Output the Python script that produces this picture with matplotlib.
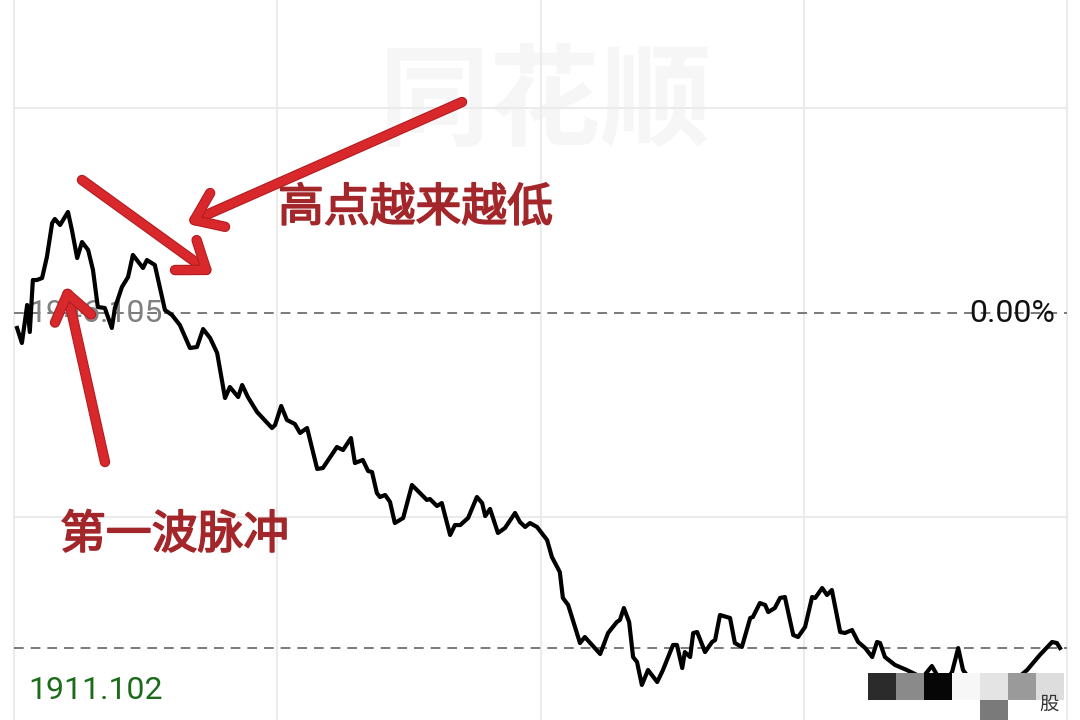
import matplotlib
matplotlib.use("Agg")
import matplotlib.pyplot as plt
import matplotlib.patheffects as pe
from matplotlib.patches import Rectangle

plt.rcParams['font.family'] = ['Roboto', 'Noto Sans CJK SC', 'DejaVu Sans']
plt.rcParams['lines.scale_dashes'] = False

# 分时数据 (分钟, 指数点位)
minutes = [0.7, 1.8, 3.0, 3.6, 4.3, 5.2, 6.4, 7.5, 8.7, 9.3, 10.5, 12.3, 13.2, 14.4, 15.5,
           16.9, 18.0, 19.1, 20.7, 22.3, 23.0, 24.6, 26.0, 27.1, 29.4, 30.3, 32.1, 34.4,
           36.0, 37.8, 40.1, 41.7, 43.1, 44.7, 46.3, 48.1, 49.2, 51.1, 52.0, 53.3, 55.4,
           58.8, 59.5, 60.9, 62.2, 64.0, 65.2, 66.8, 69.1, 70.4, 73.6, 75.0, 76.8, 77.7,
           79.5, 80.7, 81.6, 82.7, 83.4, 84.6, 85.7, 86.8, 88.7, 90.7, 92.5, 94.1, 94.8,
           96.4, 97.5, 99.4, 100.5, 101.7, 103.5, 105.5, 106.7, 107.4, 108.5, 110.3, 111.9,
           114.2, 115.3, 116.5, 117.6, 119.2, 121.5, 122.6, 124.4, 125.1, 126.3, 129.0,
           130.1, 133.6, 135.4, 137.4, 138.1, 139.0, 140.2, 141.1, 142.0, 143.1, 144.5,
           146.6, 147.9, 150.2, 151.1, 152.3, 152.9, 154.1, 154.8, 155.7, 157.5, 159.1,
           159.8, 160.9, 163.2, 164.3, 165.9, 167.8, 168.4, 170.0, 171.2, 171.9, 173.4,
           174.6, 175.7, 177.6, 178.7, 180.3, 181.9, 182.6, 184.2, 185.3, 186.4, 188.3,
           189.4, 191.0, 192.4, 194.0, 195.6, 196.7, 197.4, 198.5, 200.8, 203.5, 205.8,
           207.0, 209.2, 210.4, 212.2, 213.8, 215.2, 216.3, 219.0, 222.5, 225.9, 228.2,
           230.9, 233.8, 236.6, 237.7, 238.4]
prices = [1944.54, 1942.97, 1946.94, 1944.12, 1949.55, 1949.55, 1949.76, 1951.96, 1955.51,
          1955.93, 1955.30, 1956.66, 1954.78, 1951.85, 1953.52, 1952.69, 1950.60, 1946.73,
          1946.63, 1944.54, 1946.63, 1948.82, 1949.87, 1952.17, 1950.81, 1951.64, 1951.12,
          1946.42, 1945.90, 1944.85, 1942.45, 1942.55, 1944.43, 1943.49, 1941.93, 1937.22,
          1938.37, 1937.33, 1938.58, 1937.33, 1935.76, 1934.09, 1934.40, 1936.39, 1934.93,
          1934.51, 1933.57, 1934.09, 1929.81, 1929.91, 1932.10, 1931.79, 1933.04, 1930.43,
          1930.75, 1929.60, 1929.49, 1927.30, 1926.88, 1927.09, 1926.36, 1924.16, 1924.69,
          1928.13, 1927.30, 1926.57, 1926.67, 1925.94, 1926.25, 1922.91, 1923.95, 1923.95,
          1924.69, 1926.88, 1926.25, 1924.89, 1925.63, 1923.12, 1923.64, 1925.21, 1924.27,
          1923.75, 1924.16, 1923.75, 1922.39, 1920.61, 1919.04, 1916.33, 1915.60, 1911.62,
          1912.25, 1910.48, 1912.67, 1913.82, 1914.03, 1915.28, 1913.82, 1910.16, 1909.64,
          1907.24, 1908.80, 1907.55, 1908.80, 1911.42, 1911.42, 1909.01, 1910.68, 1910.16,
          1912.67, 1912.77, 1910.68, 1911.73, 1911.94, 1914.55, 1914.24, 1911.62, 1911.21,
          1914.24, 1914.34, 1915.80, 1915.60, 1914.86, 1915.28, 1916.33, 1916.43, 1912.46,
          1912.25, 1913.30, 1916.43, 1916.33, 1917.37, 1916.64, 1917.16, 1912.77, 1912.67,
          1912.98, 1911.73, 1911.10, 1910.16, 1911.73, 1911.62, 1910.16, 1909.33, 1908.80,
          1908.28, 1907.97, 1909.22, 1908.28, 1907.55, 1908.59, 1911.10, 1908.80, 1907.13,
          1906.71, 1906.92, 1907.76, 1908.80, 1910.37, 1911.73, 1911.62, 1911.10]

pre_close = 1946.105
low_price = 1911.102
grid_minutes = [0, 60, 120, 180, 240]
grid_prices = [1967.52, 1924.79]

red = '#d8282c'
text_red = '#a3262a'

fig = plt.figure(figsize=(10.8, 7.2), dpi=100)
ax = fig.add_axes([0, 0, 1, 1])
ax.set_xlim(-3.19, 242.96)
ax.set_ylim(1903.58, 1978.81)
ax.axis('off')

# 网格
for m in grid_minutes:
    ax.axvline(m, color='#ebebeb', lw=1.5, zorder=1)
for p in grid_prices:
    ax.plot([0, 240], [p, p], color='#ebebeb', lw=1.5, zorder=1)

# 水印
ax.text(0.505, 0.855, '同花顺', transform=ax.transAxes, ha='center', va='center',
        fontsize=80, fontweight='bold', color='#f6f6f6', family=['Noto Sans CJK SC'], zorder=0)

# 昨收线 / 最低线
ax.plot([0, 240], [pre_close, pre_close], color='#7a7a7a', lw=1.4, dashes=(7, 5), zorder=2)
ax.plot([0, 240], [low_price, low_price], color='#7a7a7a', lw=1.4, dashes=(7, 5), zorder=2)

ax.text(3.2, pre_close, f'{pre_close:.3f}', ha='left', va='center', fontsize=23,
        color='#808080', zorder=3)
ax.text(237.3, pre_close, '0.00%', ha='right', va='center', fontsize=23,
        color='#111111', zorder=3)
ax.text(3.2, 1906.71, f'{low_price:.3f}', ha='left', va='center', fontsize=23,
        color='#1b6b1b', zorder=3)

# 分时线
ax.plot(minutes, prices, color='black', lw=3.0, solid_joinstyle='round', zorder=4)

# 打码块
blocks = [(868, 673, '#2b2b2b'), (896, 673, '#8a8a8a'), (924, 673, '#060606'),
          (952, 673, '#f7f7f7'), (980, 673, '#e4e4e4'), (1008, 673, '#9a9a9a'),
          (1036, 673, '#dddddd'), (980, 700, '#7a7a7a')]
for bx, by, bc in blocks:
    ax.add_patch(Rectangle((bx / 1080, 1 - (by + 27) / 720), 28 / 1080, 27 / 720,
                           transform=ax.transAxes, color=bc, lw=0, zorder=6))
ax.text(1049 / 1080, 1 - 704 / 720, '股', transform=ax.transAxes, ha='center', va='center',
        fontsize=14, color='#333333', family=['Noto Sans CJK SC'], zorder=7)

# 红色箭头与标注
arrows = [((0.4278, 0.8583), (0.1741, 0.6903)),
          ((0.0759, 0.7500), (0.1963, 0.6194)),
          ((0.0972, 0.3583), (0.0611, 0.6014))]
for tail, tip in arrows:
    ax.annotate('', xy=tip, xytext=tail, xycoords='axes fraction', textcoords='axes fraction',
                arrowprops=dict(arrowstyle='->,head_length=1.3,head_width=0.95', mutation_scale=14,
                                lw=6, color=red, capstyle='round', joinstyle='round',
                                shrinkA=0, shrinkB=0,
                                path_effects=[pe.Stroke(linewidth=7.5, foreground='#b01c20'),
                                              pe.Normal()]),
                zorder=8)

label_fx = [pe.Stroke(linewidth=1.2, foreground=text_red), pe.Normal()]
ax.text(278 / 1080, 1 - 208 / 720, '高点越来越低', transform=ax.transAxes, ha='left',
        va='center', fontsize=33, color=text_red, family=['Noto Sans CJK SC'],
        path_effects=label_fx, zorder=8)
ax.text(60 / 1080, 1 - 535 / 720, '第一波脉冲', transform=ax.transAxes, ha='left',
        va='center', fontsize=33, color=text_red, family=['Noto Sans CJK SC'],
        path_effects=label_fx, zorder=8)

plt.savefig('out.png', dpi=100)
